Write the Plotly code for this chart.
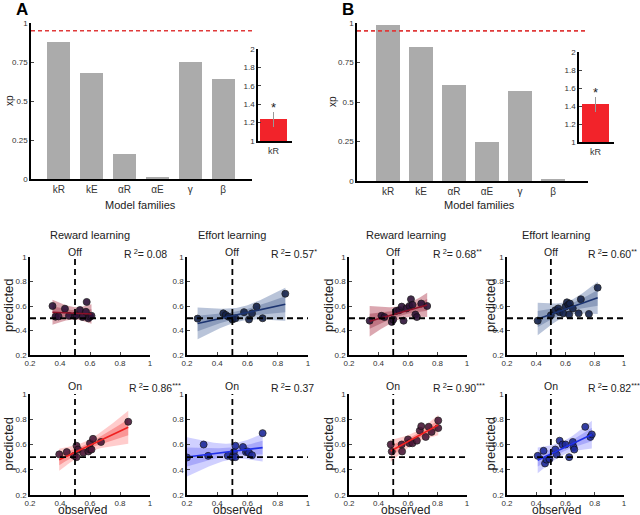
import numpy as np
import plotly.graph_objects as go

W, H = 640, 515

# ---- data: model family exceedance probabilities ----
families = ["kR", "kE", "αR", "αE", "γ", "β"]
xp_A = [0.88, 0.68, 0.16, 0.01, 0.75, 0.64]
xp_B = [0.99, 0.85, 0.61, 0.25, 0.57, 0.01]
xp_threshold = 0.95

# insets (kR)
inset_A = 1.24
inset_A_err = (0.08, 0.09)
inset_B = 1.42
inset_B_err = (0.08, 0.09)

# ---- data: observed vs predicted ----
rew_off_A_x = [0.35, 0.37, 0.39, 0.433, 0.46, 0.50, 0.51, 0.533, 0.55, 0.573, 0.578, 0.589, 0.60, 0.61]
rew_off_A_y = [0.60, 0.513, 0.515, 0.578, 0.52, 0.518, 0.525, 0.567, 0.51, 0.553, 0.633, 0.50, 0.513, 0.52]
eff_off_A_x = [0.27, 0.44, 0.456, 0.474, 0.50, 0.50, 0.52, 0.577, 0.61, 0.63, 0.66, 0.70, 0.85]
eff_off_A_y = [0.497, 0.54, 0.527, 0.513, 0.50, 0.49, 0.50, 0.55, 0.49, 0.54, 0.595, 0.50, 0.70]
rew_off_B_x = [0.34, 0.42, 0.44, 0.49, 0.50, 0.52, 0.54, 0.557, 0.57, 0.59, 0.61, 0.62, 0.63, 0.65, 0.66, 0.69, 0.73]
rew_off_B_y = [0.48, 0.52, 0.51, 0.47, 0.49, 0.56, 0.565, 0.595, 0.48, 0.58, 0.60, 0.655, 0.61, 0.53, 0.51, 0.62, 0.60]
eff_off_B_x = [0.41, 0.50, 0.53, 0.55, 0.56, 0.585, 0.60, 0.61, 0.62, 0.625, 0.63, 0.65, 0.69, 0.705, 0.76, 0.82]
eff_off_B_y = [0.48, 0.525, 0.565, 0.58, 0.55, 0.54, 0.595, 0.63, 0.61, 0.53, 0.62, 0.58, 0.54, 0.655, 0.535, 0.75]
rew_on_A_x = [0.395, 0.445, 0.495, 0.51, 0.51, 0.52, 0.555, 0.589, 0.60, 0.61, 0.60, 0.62, 0.673, 0.855]
rew_on_A_y = [0.522, 0.54, 0.51, 0.50, 0.59, 0.56, 0.535, 0.545, 0.56, 0.56, 0.61, 0.645, 0.62, 0.78]
eff_on_A_x = [0.20, 0.31, 0.34, 0.47, 0.50, 0.51, 0.52, 0.52, 0.57, 0.59, 0.60, 0.61, 0.63, 0.70]
eff_on_A_y = [0.497, 0.60, 0.51, 0.51, 0.50, 0.54, 0.59, 0.50, 0.58, 0.54, 0.545, 0.535, 0.515, 0.69]
rew_on_B_x = [0.483, 0.49, 0.557, 0.56, 0.60, 0.61, 0.63, 0.66, 0.68, 0.69, 0.72, 0.74, 0.76, 0.805, 0.805]
rew_on_B_y = [0.60, 0.545, 0.60, 0.545, 0.64, 0.61, 0.61, 0.63, 0.71, 0.745, 0.66, 0.74, 0.70, 0.79, 0.73]
eff_on_B_x = [0.41, 0.45, 0.46, 0.47, 0.49, 0.53, 0.54, 0.56, 0.58, 0.60, 0.625, 0.65, 0.655, 0.66, 0.735, 0.77, 0.78]
eff_on_B_y = [0.51, 0.55, 0.45, 0.48, 0.485, 0.56, 0.52, 0.63, 0.60, 0.60, 0.50, 0.62, 0.58, 0.56, 0.74, 0.66, 0.68]

r2_values = ["0.08", "0.57", "0.68", "0.60", "0.86", "0.37", "0.90", "0.82"]
r2_stars = ["", "*", "**", "**", "***", "", "***", "***"]


def px(x):
    return x / W


def py(y):
    return 1 - y / H


def names(k):
    s = "" if k == 1 else str(k)
    return f"x{s}", f"y{s}", f"xaxis{s}", f"yaxis{s}"


def label(text, x, y, size, **kw):
    d = dict(text=text, x=px(x), y=py(y), xref="paper", yref="paper", xanchor="center",
             yanchor="middle", showarrow=False, font=dict(size=size, color="#222"))
    d.update(kw)
    return d


FONT = "Liberation Sans"
fig = go.Figure()
annotations = []
shapes = []
layout_axes = {}

# ---- top bar panels ----
bar_panels = [
    # values, x-axis px, y px (bottom, top), range, inset spec
    (xp_A, (31, 252), (179, 23), [-0.85, 5.88], inset_A, inset_A_err, (258, 292), (141, 49), [-0.574, 0.685], 14, 140, 9),
    (xp_B, (357, 588), (181, 23), [-0.94, 6.06], inset_B, inset_B_err, (579, 614), (142, 52), [-0.6, 0.67], 340, 479, 333),
]
ax = 1
for vals, xr, yr, xrange, ins, ins_err, ixr, iyr, irange, lab_x, mf_x, xp_x in bar_panels:
    xa, ya, xk, yk = names(ax)
    fig.add_trace(go.Bar(x=list(range(len(families))), y=vals, width=0.7,
                         marker=dict(color="#ababab", line=dict(width=0)),
                         xaxis=xa, yaxis=ya, showlegend=False))
    layout_axes[xk] = dict(domain=[px(xr[0]), px(xr[1])], range=xrange, anchor=ya, automargin=False,
                           tickvals=list(range(len(families))), ticktext=families,
                           showline=True, linecolor="black", linewidth=1.5, ticks="",
                           tickfont=dict(size=10, color="#333"), showgrid=False, zeroline=False)
    layout_axes[yk] = dict(domain=[py(yr[0]), py(yr[1])], range=[0, 1], anchor=xa, automargin=False,
                           tickvals=[0, 0.25, 0.5, 0.75, 1], ticktext=["0", "0.25", "0.5", "0.75", "1"],
                           showline=True, linecolor="black", linewidth=1.5, ticks="inside", ticklen=3,
                           tickfont=dict(size=8, color="#333"), showgrid=False, zeroline=False)
    annotations.append(label("xp", xp_x, (yr[0] + yr[1]) / 2, 10, textangle=-90))
    shapes.append(dict(type="line", xref=f"{xa} domain", yref=ya, x0=0, x1=1, y0=xp_threshold,
                       y1=xp_threshold, line=dict(color="#e03a3a", width=1.6, dash="4px,3px")))
    annotations.append(label("<b>" + ("A" if ax == 1 else "B") + "</b>", lab_x, 9, 17, xanchor="left",
                             font=dict(size=17, color="black")))
    annotations.append(label("Model families", mf_x, 205, 11))
    # inset
    ixa, iya, ixk, iyk = names(ax + 1)
    fig.add_trace(go.Bar(x=[0], y=[ins], base=0, width=1.0, marker=dict(color="#f2232a", line=dict(width=0)),
                         error_y=dict(type="data", array=[ins_err[0]], arrayminus=[ins_err[1]],
                                      color="#999", thickness=1.5, width=0),
                         xaxis=ixa, yaxis=iya, showlegend=False))
    layout_axes[ixk] = dict(domain=[px(ixr[0]), px(ixr[1])], range=irange, anchor=iya, automargin=False,
                            tickvals=[0], ticktext=["kR"], ticks="", showline=True, linecolor="black",
                            linewidth=1.5, tickfont=dict(size=9, color="#333"), showgrid=False,
                            zeroline=False)
    layout_axes[iyk] = dict(domain=[py(iyr[0]), py(iyr[1])], range=[1, 2], anchor=ixa, automargin=False,
                            tickvals=[1, 1.2, 1.4, 1.6, 1.8, 2],
                            ticktext=["1", "1.2", "1.4", "1.6", "1.8", "2"],
                            ticks="inside", ticklen=3, showline=True, linecolor="black", linewidth=1.5,
                            tickfont=dict(size=8, color="#333"), showgrid=False, zeroline=False)
    annotations.append(dict(text="*", x=0, y=ins + ins_err[0], xref=ixa, yref=iya, xanchor="center",
                            yanchor="bottom", showarrow=False, font=dict(size=13, color="#222"), yshift=-5))
    ax += 2

# ---- scatter panels ----
cols = [(30, 150), (187, 308), (349, 467), (507, 624)]
rows = [(257, 355), (394, 495)]
styles = {
    "rew_off": ("rgba(175,60,80,0.45)", "rgba(140,25,50,0.35)", "#8c1028", "#2e1238"),
    "eff_off": ("rgba(100,125,170,0.45)", "rgba(60,85,135,0.35)", "#1c3470", "#14224a"),
    "rew_on": ("rgba(255,110,110,0.35)", "rgba(240,50,50,0.35)", "#f02020", "#4a1838"),
    "eff_on": ("rgba(120,120,255,0.35)", "rgba(80,80,240,0.30)", "#2030e8", "#1e2a9a"),
}
panels = [
    (0, 0, rew_off_A_x, rew_off_A_y, "rew_off", "Off", "Reward learning"),
    (0, 1, eff_off_A_x, eff_off_A_y, "eff_off", "Off", "Effort learning"),
    (0, 2, rew_off_B_x, rew_off_B_y, "rew_off", "Off", "Reward learning"),
    (0, 3, eff_off_B_x, eff_off_B_y, "eff_off", "Off", "Effort learning"),
    (1, 0, rew_on_A_x, rew_on_A_y, "rew_on", "On", None),
    (1, 1, eff_on_A_x, eff_on_A_y, "eff_on", "On", None),
    (1, 2, rew_on_B_x, rew_on_B_y, "rew_on", "On", None),
    (1, 3, eff_on_B_x, eff_on_B_y, "eff_on", "On", None),
]
title_x = [90, 232, 406, 556]
r2_left = [[122, 269, 431, 586], [127, 269, 431, 586]]
obs_x = [82, 237, 405, 556]
pred_x = [8, None, 328, 490]

for i, (r, c, xs, ys, sty, cond, title) in enumerate(panels):
    xa, ya, xk, yk = names(ax)
    outer, inner, lcol, mcol = styles[sty]
    x = np.array(xs)
    y = np.array(ys)
    n = len(x)
    slope, icpt = np.polyfit(x, y, 1)
    resid = y - (slope * x + icpt)
    s = np.sqrt((resid ** 2).sum() / (n - 2))
    sxx = ((x - x.mean()) ** 2).sum()
    xg = np.linspace(x.min(), x.max(), 60)
    yg = slope * xg + icpt
    se = s * np.sqrt(1 / n + (xg - x.mean()) ** 2 / sxx)
    for k, col in ((4.5, outer), (2.2, inner)):
        fig.add_trace(go.Scatter(x=np.concatenate([xg, xg[::-1]]),
                                 y=np.concatenate([yg + k * se, (yg - k * se)[::-1]]),
                                 fill="toself", fillcolor=col, line=dict(width=0), mode="lines",
                                 xaxis=xa, yaxis=ya, showlegend=False, hoverinfo="skip"))
    fig.add_trace(go.Scatter(x=xs, y=ys, mode="markers", xaxis=xa, yaxis=ya, showlegend=False,
                             marker=dict(size=7, color=mcol, opacity=0.9, line=dict(width=0.8, color="#111"))))
    fig.add_trace(go.Scatter(x=xg, y=yg, mode="lines", line=dict(color=lcol, width=1.6),
                             xaxis=xa, yaxis=ya, showlegend=False))
    x0, x1 = cols[c]
    y0, y1 = rows[r]
    common = dict(range=[0.2, 1], tickvals=[0.2, 0.4, 0.6, 0.8, 1], ticktext=["0.2", "0.4", "0.6", "0.8", "1"],
                  showline=True, linecolor="black", linewidth=1.5, ticks="inside", ticklen=3, automargin=False,
                  tickfont=dict(size=8, color="#333"), showgrid=False, zeroline=False)
    layout_axes[xk] = dict(domain=[px(x0), px(x1)], anchor=ya, **common)
    layout_axes[yk] = dict(domain=[py(y1), py(y0)], anchor=xa, **common)
    shapes.append(dict(type="line", xref=xa, yref=ya, x0=0.5, x1=0.5, y0=0.2, y1=1,
                       line=dict(color="black", width=1.8, dash="6px,4px")))
    shapes.append(dict(type="line", xref=xa, yref=ya, x0=0.2, x1=1, y0=0.5, y1=0.5,
                       line=dict(color="black", width=1.8, dash="6px,4px")))
    ty = 252 if r == 0 else 386
    annotations.append(dict(text=cond, x=0.5, xref=xa, y=py(ty), yref="paper", xanchor="center",
                            yanchor="middle", showarrow=False, font=dict(size=10.5, color="#222")))
    star = f"<sup>{r2_stars[i]}</sup>" if r2_stars[i] else ""
    annotations.append(label(f"R<sup> 2</sup>= {r2_values[i]}{star}", r2_left[r][c], ty + 1, 10.5,
                             xanchor="left"))
    if title:
        annotations.append(label(title, title_x[c], 235, 11))
    if pred_x[c] is not None:
        annotations.append(label("predicted", pred_x[c], (y0 + y1) / 2, 13, textangle=-90))
    if r == 1:
        annotations.append(label("observed", obs_x[c], 515, 12, yanchor="bottom", yshift=-4))
    ax += 1

fig.update_layout(width=W, height=H, margin=dict(l=0, r=0, t=0, b=0), plot_bgcolor="white",
                  paper_bgcolor="white", font=dict(family=FONT), bargap=0,
                  annotations=annotations, shapes=shapes, **layout_axes)
# the page's default body margin would shift the figure by 8px
fig.write_html("out.html", config={"displayModeBar": False},
               post_script="document.body.style.margin='0';")
